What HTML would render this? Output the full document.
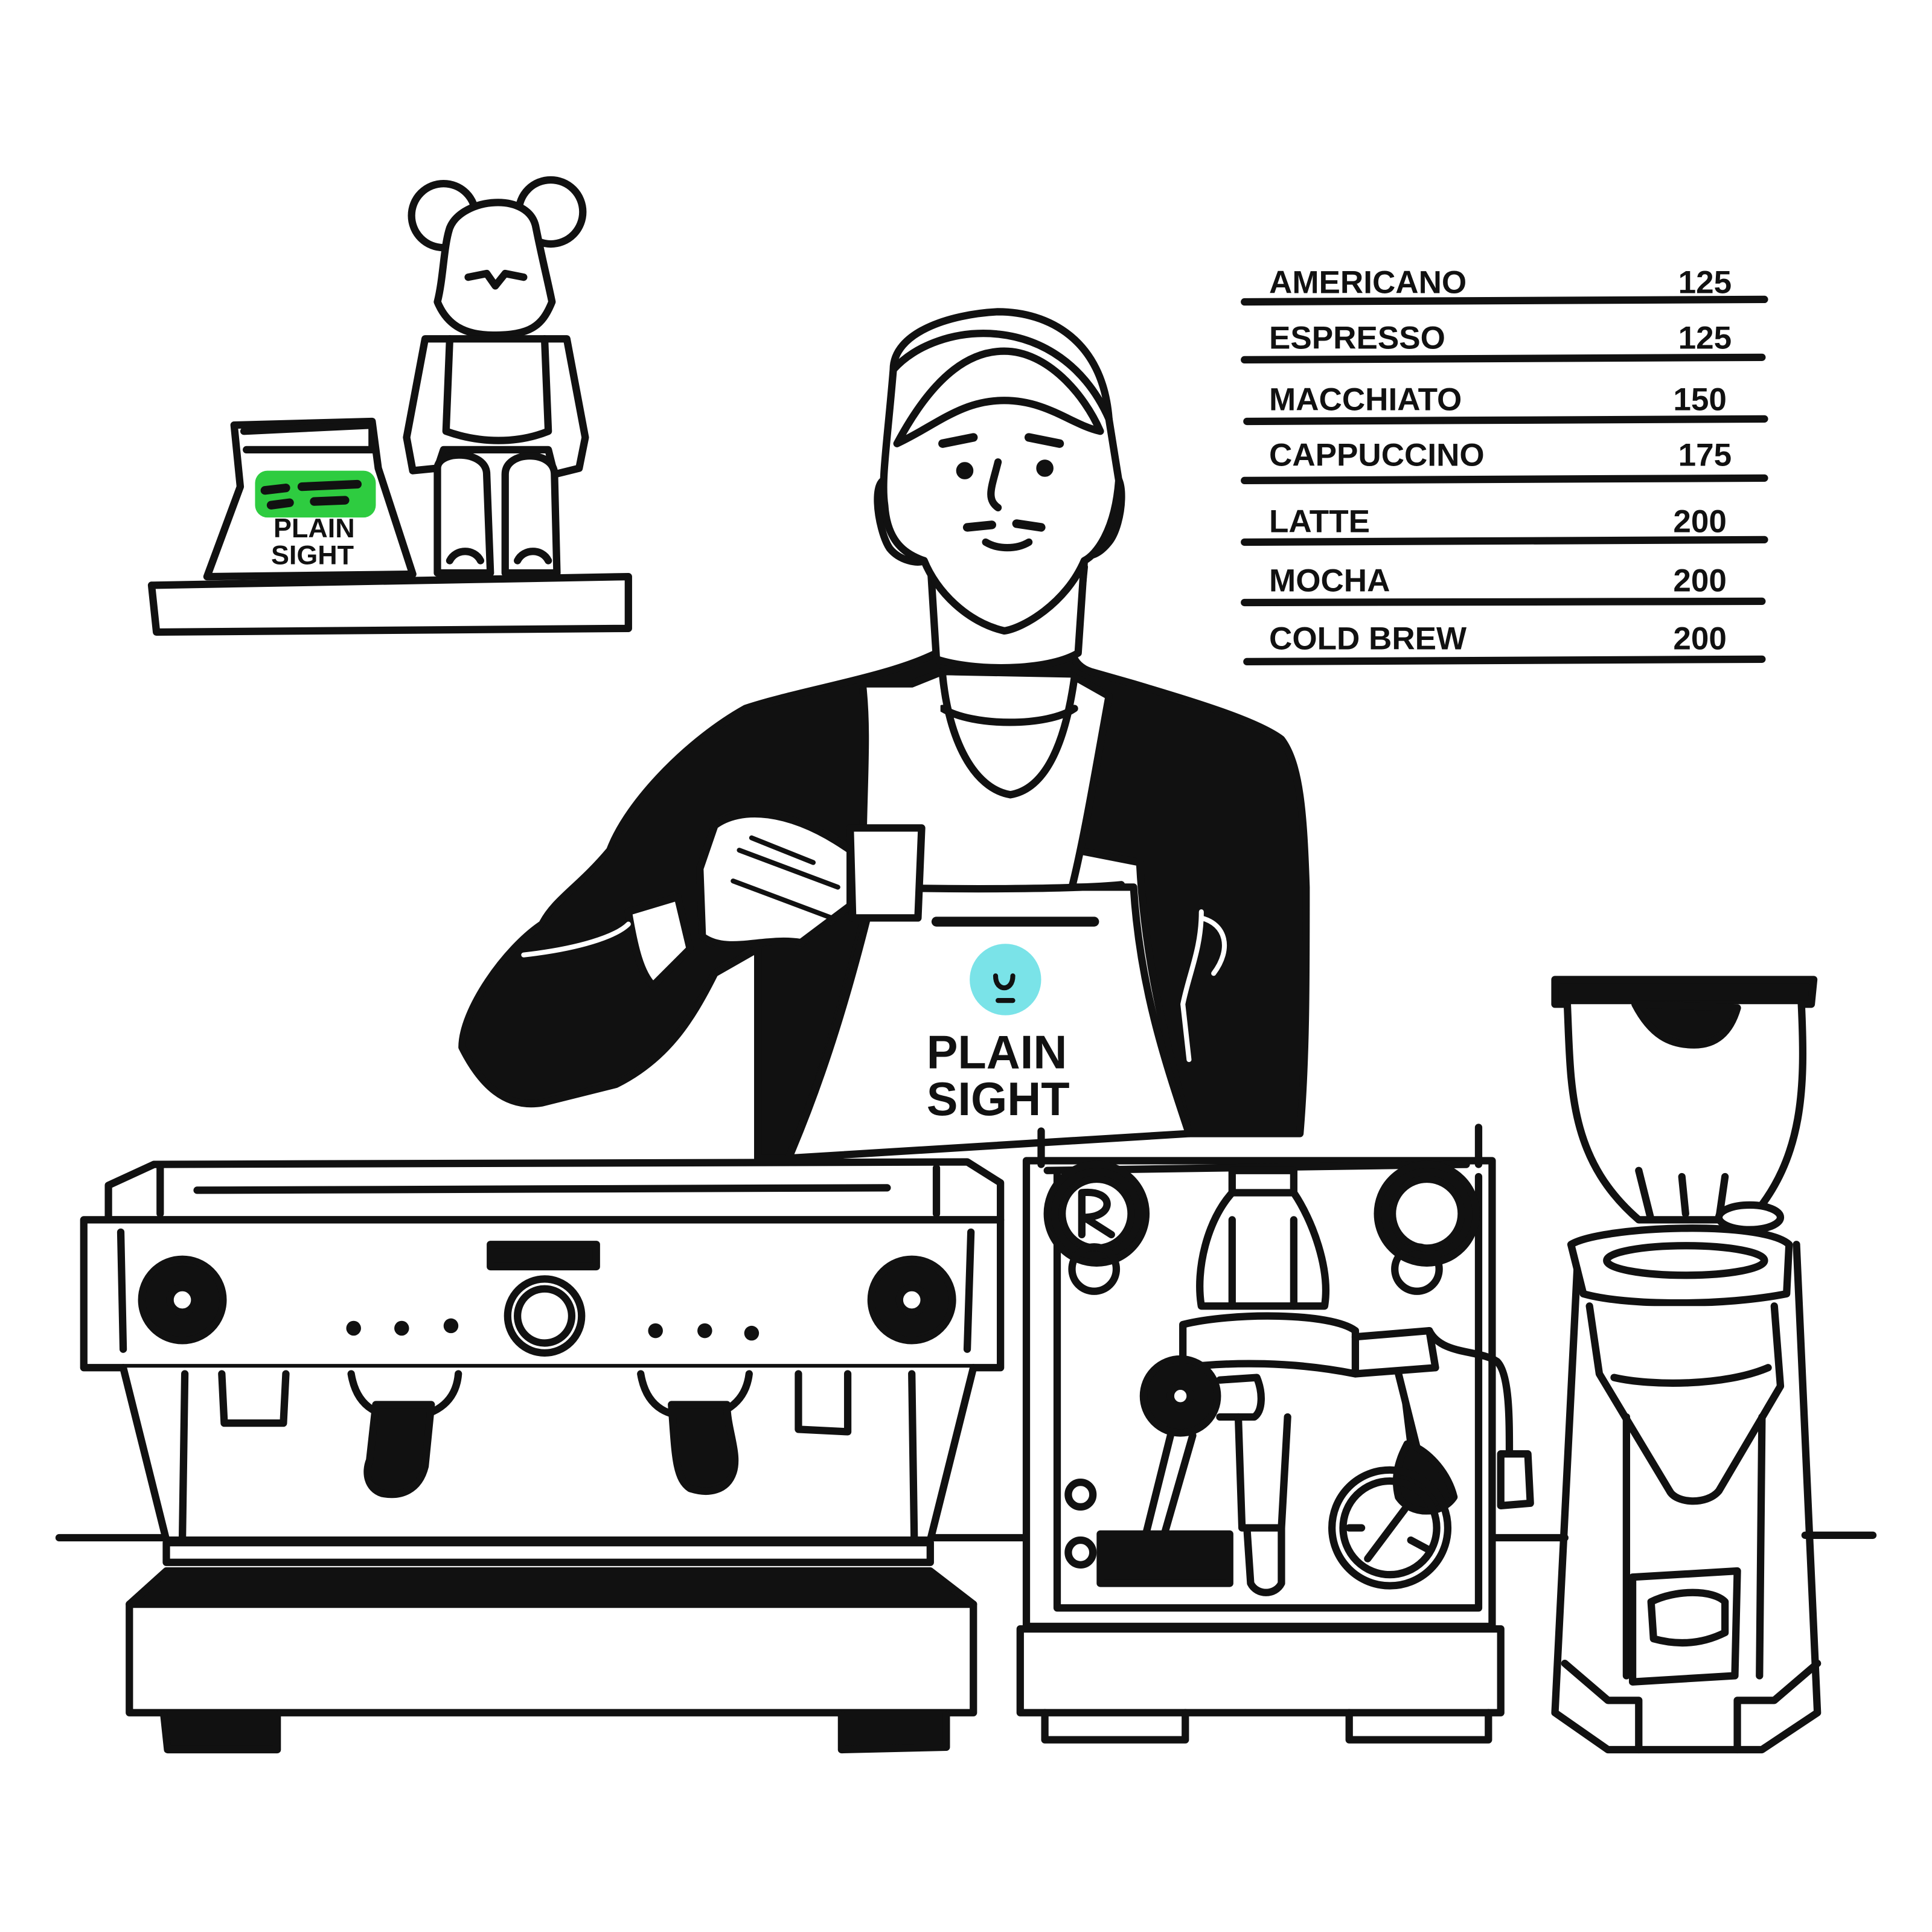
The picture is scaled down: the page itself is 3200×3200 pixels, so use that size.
<!DOCTYPE html>
<html><head><meta charset="utf-8"><style>
html,body{margin:0;padding:0;background:#fff;}
svg{display:block;}
text{font-family:"Liberation Sans",sans-serif;font-weight:bold;fill:#111;}
</style></head><body>
<svg width="3200" height="3200" viewBox="0 0 1568 1568" xmlns="http://www.w3.org/2000/svg">
<g fill="none" stroke="#111" stroke-width="6" stroke-linejoin="round" stroke-linecap="round">
<!-- shelf -->
<path d="M123,475 L510,468 L510,510 L127,513 Z"/>
<!-- bag -->
<path d="M190,345 L195,395 L168,468 L335,466 L307,380 L302,342 Z" fill="#fff"/>
<path d="M198,350 L302,345 L302,365 L200,365"/>
<rect x="207" y="382" width="98" height="38" rx="10" fill="#2ecc40" stroke="none"/>
<path d="M215,398 L232,396 M245,395 L290,393 M220,410 L235,408 M255,407 L280,406" stroke-width="7"/>
<!-- bear -->
<circle cx="360" cy="175" r="26" fill="#fff"/>
<circle cx="447" cy="172" r="26" fill="#fff"/>
<path d="M365,185 C375,160 430,155 435,185 C440,210 445,230 448,245 C440,265 430,272 400,272 C375,272 362,262 355,245 C360,225 360,200 365,185 Z" fill="#fff"/>
<path d="M380,225 L395,222 L402,232 L410,222 L425,225"/>
<path d="M345,275 L460,275 L475,355 L470,380 L450,385 L445,365 L360,365 L355,380 L335,382 L330,355 Z" fill="#fff"/>
<path d="M365,275 L362,350 C390,360 420,360 445,350 L442,275"/>
<path d="M355,380 C355,365 395,365 395,385 L398,465 L355,465 Z" fill="#fff"/>
<path d="M410,385 C410,365 450,365 450,385 L452,465 L410,465 Z" fill="#fff"/>
<path d="M365,455 C370,445 385,445 390,455 M420,455 C425,445 440,445 445,455"/>
<!-- menu lines -->
<path d="M1010,245 L1432,243 M1010,292 L1430,290 M1012,342 L1432,340 M1010,390 L1432,388 M1010,440 L1432,438 M1010,489 L1430,488 M1012,537 L1430,535" stroke-width="6"/>
<!-- sweater -->
<path d="M760,530 C720,550 650,560 605,575 C560,600 510,650 495,690 C470,720 450,730 440,750 C410,770 375,820 375,850 C390,880 410,900 440,895 L500,880 C540,860 560,830 580,790 L615,770 L615,940 L640,940 C670,870 700,760 720,660 L925,700 C930,800 955,870 965,920 L1055,920 C1060,860 1060,800 1060,720 C1058,660 1055,620 1040,600 C1020,585 970,570 920,555 L885,545 C870,540 865,525 875,510 L880,460 L760,470 Z" fill="#111"/>
<!-- apron -->
<path d="M740,555 L765,545 L870,548 L900,565 C890,620 880,680 870,720 L920,720 C925,800 945,860 965,920 L640,940 C670,870 690,800 705,740 L700,720 C700,640 705,600 700,555 Z" fill="#fff"/>
<path d="M765,548 C770,600 790,640 820,645 C850,640 865,600 872,550" fill="#fff"/>
<path d="M765,575 C790,590 850,590 872,575"/>
<path d="M700,720 C770,722 870,722 910,718"/>
<path d="M760,748 L888,748" stroke-width="8"/>
<!-- neck/head -->
<path d="M755,455 L760,535 C790,545 850,545 875,530 L880,455" fill="#fff"/>
<path d="M725,390 C705,380 712,430 722,445 C730,455 745,458 750,455 Z" fill="#fff"/>
<path d="M900,385 C915,380 912,425 900,440 C892,450 885,452 880,450 Z" fill="#fff"/>
<path d="M725,300 C725,270 770,255 810,253 C850,253 895,275 900,340 L908,390 C905,430 890,450 880,455 C865,490 830,510 815,512 C785,505 760,480 750,455 C735,450 720,440 718,410 C715,390 720,360 725,300 Z" fill="#fff"/>
<path d="M728,360 C760,300 790,285 815,285 C850,285 880,320 893,350 C870,345 850,325 815,325 C780,325 760,345 728,360 Z" fill="#fff"/>
<path d="M725,300 C760,260 860,250 900,340"/>
<path d="M765,360 L790,355 M835,355 L860,360" stroke-width="7"/>
<circle cx="783" cy="382" r="4" fill="#111"/><circle cx="848" cy="380" r="4" fill="#111"/>
<path d="M810,375 C805,395 800,405 810,412"/>
<path d="M785,428 L805,426 M825,425 L845,428" stroke-width="7"/>
<path d="M800,440 C810,446 825,446 835,440"/>
<!-- cup & hand -->
<path d="M690,672 L748,672 L745,745 L692,745 Z" fill="#fff"/>
<path d="M580,670 C600,655 640,655 690,690 L690,735 L650,765 C620,760 590,775 570,760 L568,705 Z" fill="#fff"/>
<path d="M600,690 L680,720 M595,715 L675,745 M610,680 L660,700" stroke-width="4"/>
<path d="M510,740 L550,728 L560,770 L530,800 C520,790 515,770 510,740 Z" fill="#fff"/>
<path d="M425,775 C470,770 500,760 510,750"  stroke="#fff" stroke-width="4"/>
<path d="M975,740 C975,770 965,790 960,815 L965,860" stroke="#fff" stroke-width="4"/>
<path d="M975,745 C995,750 1000,770 985,790" stroke="#fff" stroke-width="4"/>
<path d="M762,560 C760,620 770,680 810,715" stroke="#fff" stroke-width="3"/>
<!-- logo -->
<circle cx="816" cy="795" r="29" fill="#7ae3e8" stroke="none"/>
<path d="M808,792 C808,805 822,805 822,792 M810,812 L822,812" stroke-width="4"/>
<!-- counter line -->
<path d="M48,1248 L140,1248 M750,1248 L835,1248 M1212,1248 L1270,1248 M1465,1246 L1520,1246"/>
<!-- left machine -->
<path d="M88,962 L125,945 L785,943 L812,960 L812,990 L88,990 Z" fill="#fff"/>
<path d="M130,948 L130,985 M760,948 L760,985 M160,966 L720,964"/>
<rect x="68" y="990" width="744" height="120" fill="#fff"/>
<path d="M98,1000 L100,1095 M788,1000 L785,1095"/>
<circle cx="148" cy="1055" r="33" fill="#111"/><circle cx="148" cy="1055" r="10" fill="#fff"/>
<circle cx="740" cy="1055" r="33" fill="#111"/><circle cx="740" cy="1055" r="10" fill="#fff"/>
<circle cx="442" cy="1068" r="30"/><circle cx="442" cy="1068" r="22"/>
<rect x="398" y="1010" width="86" height="18" fill="#111"/>
<g fill="#111" stroke="none"><circle cx="287" cy="1078" r="6"/><circle cx="326" cy="1078" r="6"/><circle cx="366" cy="1076" r="6"/><circle cx="532" cy="1080" r="6"/><circle cx="572" cy="1080" r="6"/><circle cx="610" cy="1082" r="6"/></g>
<path d="M100,1110 L135,1250 L755,1250 L790,1110" fill="#fff"/>
<path d="M150,1115 L148,1250 M740,1115 L742,1250"/>
<path d="M180,1115 L182,1155 L230,1155 L232,1115"/>
<path d="M285,1115 C290,1145 310,1150 330,1150 C350,1150 370,1140 372,1115"/>
<path d="M520,1115 C525,1145 545,1150 565,1150 C585,1150 605,1140 608,1115"/>
<path d="M305,1140 L350,1140 L345,1190 C340,1210 325,1215 310,1212 C298,1208 296,1195 300,1185 Z" fill="#111"/>
<path d="M545,1140 L590,1140 C590,1160 600,1180 595,1195 C590,1210 575,1213 560,1208 C548,1200 548,1180 545,1140 Z" fill="#111"/>
<path d="M648,1115 L648,1160 L688,1162 L688,1115"/>
<path d="M135,1252 L755,1252 L755,1268 L135,1268 Z" fill="#fff"/>
<path d="M105,1302 L135,1275 L755,1275 L790,1302 Z" fill="#111"/>
<rect x="105" y="1302" width="685" height="88" fill="#fff"/>
<path d="M133,1392 L136,1420 L225,1420 L225,1392 M683,1392 L683,1420 L768,1418 L768,1392" fill="#111"/>
<!-- middle machine -->
<rect x="833" y="942" width="378" height="378" fill="#fff"/>
<path d="M845,918 L845,945 M1200,915 L1200,945 M858,950 L858,1305 L1200,1305 L1200,955"/>
<path d="M850,950 L1190,945"/>
<circle cx="890" cy="985" r="40" fill="#111"/><circle cx="890" cy="985" r="28" fill="#fff"/>
<path d="M878,1002 L878,968 C905,965 905,988 880,988 L902,1002"/>
<circle cx="888" cy="1030" r="18"/>
<circle cx="1158" cy="985" r="40" fill="#111"/><circle cx="1158" cy="985" r="28" fill="#fff"/>
<circle cx="1150" cy="1030" r="18"/>
<path d="M1000,950 L1050,950 L1050,968 L1000,968 Z M1000,968 C980,990 970,1030 975,1060 L1075,1060 C1080,1030 1065,990 1050,968"/>
<path d="M1000,990 L1000,1060 M1050,990 L1050,1060"/>
<path d="M960,1075 C1000,1065 1080,1065 1100,1080 L1100,1115 C1050,1105 1000,1105 960,1110 Z" fill="#fff"/>
<path d="M1100,1085 L1160,1080 L1165,1110 L1100,1115"/>
<circle cx="958" cy="1133" r="30" fill="#111"/><circle cx="958" cy="1133" r="8" fill="#fff"/>
<path d="M990,1120 L1020,1118 C1025,1130 1025,1145 1018,1150 L990,1150"/>
<path d="M1005,1150 L1008,1240 L1040,1240 L1045,1150"/>
<path d="M1012,1240 L1015,1285 C1020,1295 1035,1295 1040,1285 L1040,1240"/>
<path d="M950,1165 L925,1265 M968,1165 L945,1245"/>
<rect x="893" y="1245" width="105" height="40" fill="#111"/>
<path d="M1135,1115 L1150,1175 C1160,1180 1175,1195 1180,1215 C1170,1230 1145,1230 1135,1215 C1130,1195 1138,1180 1142,1172" fill="#111"/>
<circle cx="1128" cy="1240" r="47"/><circle cx="1128" cy="1240" r="38"/>
<path d="M1110,1265 L1140,1225 M1145,1250 L1160,1258 M1095,1240 L1105,1240"/>
<circle cx="877" cy="1213" r="10"/><circle cx="877" cy="1260" r="10"/>
<path d="M1160,1080 C1170,1100 1200,1095 1215,1105 C1225,1115 1225,1150 1225,1180"/>
<path d="M1218,1180 L1240,1180 L1242,1220 L1218,1222 Z" fill="#fff"/>
<rect x="828" y="1322" width="390" height="68" fill="#fff"/>
<path d="M848,1390 L848,1412 L962,1412 L962,1390 M1095,1390 L1095,1412 L1208,1412 L1208,1390"/>
<!-- grinder -->
<path d="M1262,795 L1472,795 L1470,815 L1262,815 Z" fill="#111"/>
<path d="M1272,815 C1275,880 1272,940 1330,990 L1420,990 C1465,940 1465,880 1462,815" fill="#fff"/>
<path d="M1327,815 C1340,840 1355,848 1375,848 C1395,848 1405,835 1410,818 Z" fill="#111"/>
<path d="M1330,950 L1340,990 M1365,955 L1368,985 M1400,955 L1395,990"/>
<ellipse cx="1420" cy="988" rx="25" ry="10" fill="#fff"/>
<path d="M1275,1010 C1300,995 1430,990 1452,1010 L1450,1050 C1400,1060 1320,1060 1285,1050 Z" fill="#fff"/>
<ellipse cx="1368" cy="1023" rx="64" ry="12"/>
<path d="M1280,1030 L1262,1390 L1305,1420 L1430,1420 L1475,1390 L1458,1010"/>
<path d="M1290,1060 L1298,1115 L1355,1210 C1360,1220 1385,1222 1395,1210 L1445,1125 L1440,1060" fill="#fff"/>
<path d="M1310,1118 C1340,1125 1400,1125 1435,1110"/>
<path d="M1320,1150 L1320,1360 M1430,1150 L1428,1360"/>
<path d="M1325,1280 L1410,1275 L1408,1360 L1325,1365 Z" fill="#fff"/>
<path d="M1340,1300 C1360,1290 1390,1290 1400,1300 L1400,1325 C1380,1335 1360,1335 1342,1330 Z"/>
<path d="M1270,1350 L1305,1380 L1330,1380 L1330,1420 M1475,1350 L1440,1380 L1410,1380 L1410,1420"/>
</g>
<!-- text -->
<g font-size="26">
<text x="1030" y="238">AMERICANO</text><text x="1362" y="238">125</text>
<text x="1030" y="283">ESPRESSO</text><text x="1362" y="283">125</text>
<text x="1030" y="333">MACCHIATO</text><text x="1358" y="333">150</text>
<text x="1030" y="378">CAPPUCCINO</text><text x="1362" y="378">175</text>
<text x="1030" y="432">LATTE</text><text x="1358" y="432">200</text>
<text x="1030" y="480">MOCHA</text><text x="1358" y="480">200</text>
<text x="1030" y="527">COLD BREW</text><text x="1358" y="527">200</text>
</g>
<text x="222" y="436" font-size="22">PLAIN</text>
<text x="220" y="458" font-size="22">SIGHT</text>
<text x="752" y="867" font-size="38">PLAIN</text>
<text x="752" y="905" font-size="38">SIGHT</text>
</svg>
</body></html>
